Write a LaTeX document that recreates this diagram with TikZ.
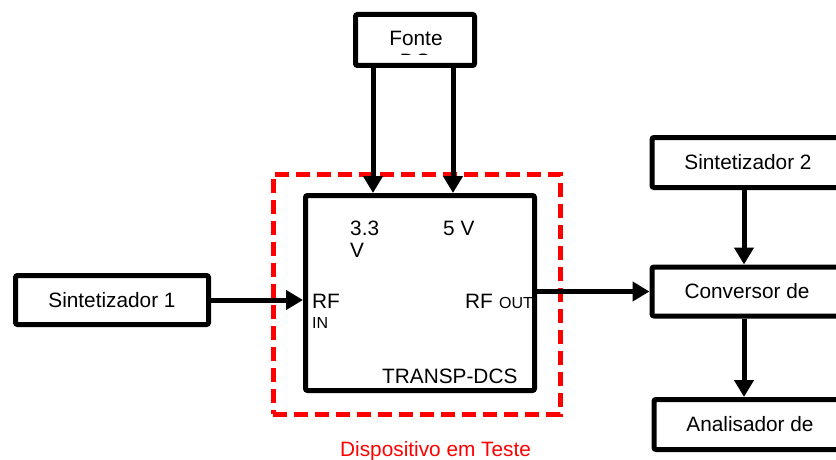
\documentclass[tikz,border=0pt]{standalone}
\usepackage{fontspec}
\setmainfont{Liberation Sans}
\usetikzlibrary{arrows.meta}
\begin{document}
\begin{tikzpicture}[x=1pt,y=-1pt,
  box/.style={draw=black,line width=5pt,rounded corners=2pt,fill=white,inner sep=0pt,
    text height=14pt,text depth=0pt,font=\fontsize{20.8}{25}\selectfont},
  arr/.style={line width=5pt,-{Triangle[length=17pt,width=19pt]}},
  lbl/.style={inner sep=0pt,font=\fontsize{20.8}{25}\selectfont},
  sub/.style={inner sep=0pt,font=\fontsize{16}{19}\selectfont},
  dutbox/.style={draw=red,line width=5pt,dash pattern=on 14pt off 7pt,inner sep=0pt}]
\clip (0,0) rectangle (836,460);
\fill[white] (0,0) rectangle (836,460);
% device under test frame
\node[dutbox,minimum width=287pt,minimum height=240pt] (dut) at (416.5,294) {};
% boxes
\node[box,minimum width=119pt,minimum height=51pt] (fonte) at (415,40) {};
\node[lbl,anchor=base] (fontet) at (416,46) {Fonte};
\begin{scope}
  \clip (355,0) rectangle (475,55);
  \node[lbl,anchor=base] (dct) at (415,69) {DC};
\end{scope}
\node[box,minimum width=229pt,minimum height=195pt] (main) at (420,293) {};
\node[box,minimum width=193pt,minimum height=49pt] (s1) at (112,300) {Sintetizador 1};
\node[box,minimum width=192pt,minimum height=50pt] (s2) at (748,162.5) {Sintetizador 2};
\node[box,minimum width=190pt,minimum height=49pt] (conv) at (747,291.5) {Conversor de};
\node[box,minimum width=192pt,minimum height=50pt] (anal) at (750,424.5) {Analisador de};
% labels in main box
\node[lbl,anchor=base west] (v33) at (350,235) {3.3};
\node[lbl,anchor=base west] (v33b) at (350,257) {V};
\node[lbl,anchor=base west] (v5) at (443,235) {5 V};
\node[lbl,anchor=base west] (rfin) at (312,308) {RF};
\node[sub,anchor=base west] (in) at (312,328) {IN};
\node[lbl,anchor=base west] (rfout) at (465,308) {RF};
\node[sub,anchor=base west] (out) at (499,308) {OUT};
\node[lbl,anchor=base west] (dev) at (382,383) {TRANSP-DCS};
\node[lbl,anchor=base west,text=red] (dutl) at (340,456) {Dispositivo em Teste};
% connectors
\coordinate (c1) at (373,0);
\coordinate (c2) at (453,0);
\coordinate (c3) at (744,0);
\draw[arr] (fonte.south -| c1) -- (main.north -| c1);
\draw[arr] (fonte.south -| c2) -- (main.north -| c2);
\draw[arr] (s1.east) -- (s1.east -| main.west);
\draw[arr] (main.east |- conv.west) -- (conv.west);
\draw[arr] (s2.south -| c3) -- (conv.north -| c3);
\draw[arr] (conv.south -| c3) -- (anal.north -| c3);
\end{tikzpicture}
\end{document}
